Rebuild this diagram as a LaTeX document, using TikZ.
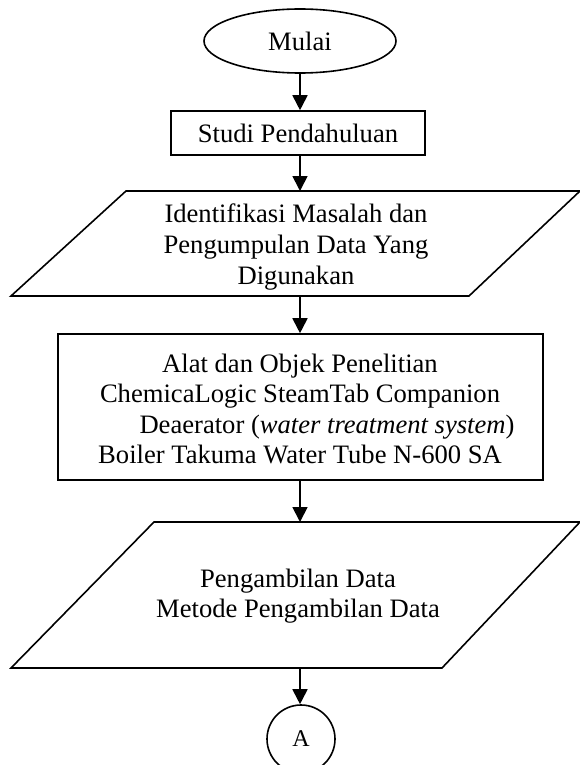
\documentclass[tikz,border=0pt]{standalone}
\usepackage{fontspec}
\setmainfont{Liberation Serif}
\usetikzlibrary{shapes.geometric,arrows.meta}
\begin{document}
\begin{tikzpicture}[x=1pt,y=-1pt,
  every node/.style={font=\fontsize{26.6}{30.6}\selectfont, inner sep=0pt},
  shapeline/.style={draw=black, line width=1.6pt},
  arr/.style={line width=1.8pt, -{Triangle[width=15pt,length=15pt]}},
  txt/.style={align=center}]
\useasboundingbox (0,0) rectangle (579,765);
\fill[white] (0,0) rectangle (579,765);
% start
\node[shapeline, ellipse, minimum width=192pt, minimum height=64pt] (mulai) at (300,41) {Mulai};
% studi
\node[shapeline, rectangle, minimum width=254pt, minimum height=44pt] (studi) at (298,133) {Studi Pendahuluan};
% parallelogram 1
\draw[shapeline, line join=miter] (126,191) -- (580,191) -- (469,296) -- (11,296) -- cycle;
\coordinate (p1t) at (300,191);
\coordinate (p1b) at (300,296);
\node[txt] (ident) at (296,247) {Identifikasi Masalah dan\\Pengumpulan Data Yang\\Digunakan};
% box 2
\node[shapeline, rectangle, minimum width=485pt, minimum height=146pt] (alat) at (300.5,407) {};
\node[txt] (alattxt) at (300,409) {Alat dan Objek Penelitian\\ChemicaLogic SteamTab Companion\\\hspace*{54pt}Deaerator (\textit{water treatment system})\\Boiler Takuma Water Tube N-600 SA};
% parallelogram 2
\draw[shapeline, line join=miter] (154,522) -- (580,522) -- (442,668) -- (11,668) -- cycle;
\coordinate (p2t) at (300,522);
\coordinate (p2b) at (300,668);
\node[txt] (ambil) at (298,596) {Pengambilan Data\\Metode Pengambilan Data};
% connector A
\node[shapeline, circle, minimum size=68pt, font=\fontsize{24}{28}\selectfont] (a) at (301,739) {A};
% arrows
\draw[arr] (mulai.south) -- (mulai.south |- studi.north);
\draw[arr] (studi.south -| mulai.south) -- (p1t);
\draw[arr] (p1b) -- (p1b |- alat.north);
\draw[arr] (alat.south -| p1b) -- (p2t);
\draw[arr] (p2b) -- (p2b |- a.north);
\end{tikzpicture}
\end{document}
